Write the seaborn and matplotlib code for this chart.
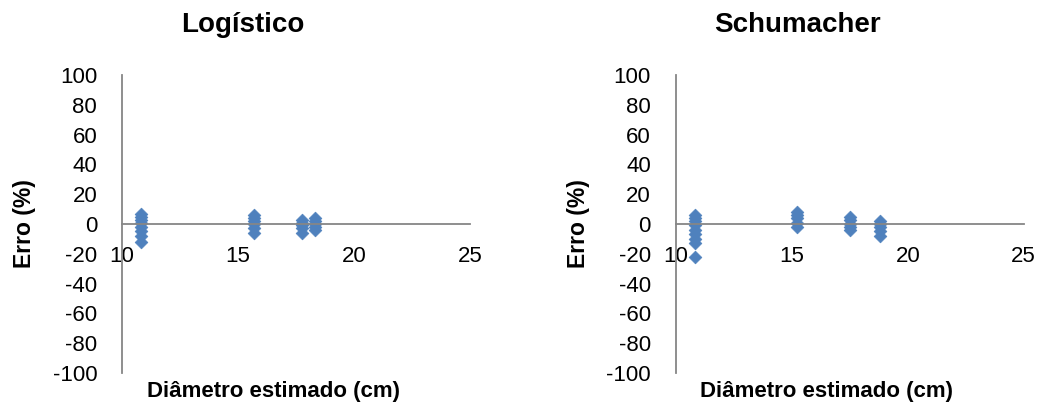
import pandas as pd
import matplotlib.pyplot as plt
import seaborn as sns

# Diameters (cm) and errors (%)
log_diam = [10.8] * 8 + [15.7] * 6 + [17.75] * 5 + [18.3] * 5
log_erro = [7, 5, 3, 1, -2, -5, -8, -12,
            6, 4, 2, 0, -3, -6,
            3, 1, -1, -3, -6,
            4, 2, 0, -2, -4]

sch_diam = [10.8] * 9 + [15.2] * 5 + [17.5] * 5 + [18.8] * 5
sch_erro = [6, 4, 2, -1, -4, -7, -10, -13, -22,
            8, 6, 4, 1, -2,
            5, 3, 0, -2, -4,
            2, 0, -2, -5, -8]

titles = ["Logístico", "Schumacher"]
x_ticks = [10, 15, 20, 25]
y_ticks = list(range(-100, 101, 20))

sns.set_style("white")
plt.rcParams["font.family"] = ["Liberation Sans", "DejaVu Sans"]
plt.rcParams["text.color"] = "black"
plt.rcParams["axes.labelcolor"] = "black"
plt.rcParams["xtick.color"] = "black"
plt.rcParams["ytick.color"] = "black"

blue = "#4F81BD"
grey = "#868686"

fig = plt.figure(figsize=(10.44, 4.11), dpi=100)
ax1 = fig.add_axes([0.117, 0.0925, 0.333, 0.725])
ax2 = fig.add_axes([0.6475, 0.0925, 0.333, 0.725])


def draw_panel(ax, diam, erro, title):
    df = pd.DataFrame({"diam": diam, "erro": erro})
    sns.scatterplot(data=df, x="diam", y="erro", ax=ax, marker="D", s=42,
                    color=blue, edgecolor=blue, linewidth=0.5)
    ax.set_xlim(10, 25)
    ax.set_ylim(-100, 100)
    ax.set_xticks(x_ticks)
    ax.set_yticks(y_ticks)
    ax.set_xticklabels([str(t) for t in x_ticks])
    ax.set_yticklabels([str(t) for t in y_ticks])
    for side in ["top", "right"]:
        ax.spines[side].set_visible(False)
    ax.spines["bottom"].set_position(("data", 0))
    ax.spines["bottom"].set_color(grey)
    ax.spines["left"].set_color(grey)
    ax.spines["bottom"].set_linewidth(1.3)
    ax.spines["left"].set_linewidth(1.3)
    ax.tick_params(axis="both", length=0, labelsize=16)
    ax.tick_params(axis="x", pad=16)
    ax.tick_params(axis="y", pad=18)
    ax.set_xlabel("Diâmetro estimado (cm)", fontsize=16, fontweight="bold")
    ax.xaxis.set_label_coords(0.434, -0.028)
    ax.set_ylabel("Erro (%)", fontsize=16.5, fontweight="bold", labelpad=12)
    ax.text(0.348, 1.168, title, transform=ax.transAxes, ha="center", va="center",
            fontsize=20, fontweight="bold")
    ax.patch.set_alpha(0)


draw_panel(ax1, log_diam, log_erro, titles[0])
draw_panel(ax2, sch_diam, sch_erro, titles[1])

fig.savefig("out.png", dpi=100)
